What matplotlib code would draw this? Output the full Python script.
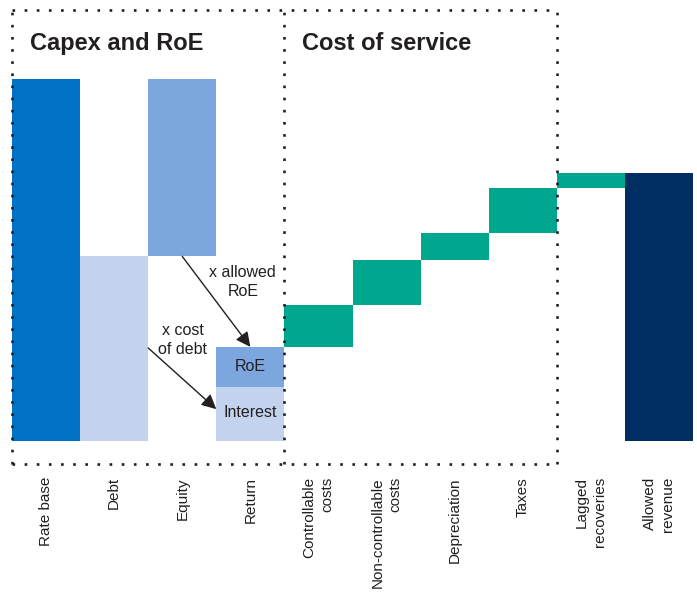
import matplotlib

matplotlib.use("Agg")
import matplotlib.pyplot as plt

plt.rcParams["font.family"] = ["Liberation Sans", "DejaVu Sans"]

# Данные водопада (в условных единицах, база = 100)
categories = [
    "Rate base", "Debt", "Equity", "Return",
    "Controllable\ncosts", "Non-controllable\ncosts", "Depreciation",
    "Taxes", "Lagged\nrecoveries", "Allowed\nrevenue",
]
rate_base = 100
debt = 51
equity = 49
interest = 15
roe = 11
cost_items = [11.5, 12.5, 7.5, 12.5]
lagged = 4.0

c_rate = "#0071c5"
c_light = "#c3d3ee"
c_mid = "#7ba7de"
c_green = "#00a68e"
c_navy = "#002e63"
c_text = "#231f20"

fig = plt.figure(figsize=(6.97, 5.97), dpi=100)
ax = fig.add_axes([12 / 697, 1 - 441 / 597, 681 / 697, 431 / 597])

ax.bar(0, rate_base, width=1.0, color=c_rate)
ax.bar(1, debt, width=1.0, color=c_light)
ax.bar(2, equity, bottom=debt, width=1.0, color=c_mid)
ax.bar(3, interest, width=1.0, color=c_light)
ax.bar(3, roe, bottom=interest, width=1.0, color=c_mid)

level = interest + roe
for i, val in enumerate(cost_items):
    ax.bar(4 + i, val, bottom=level, width=1.0, color=c_green)
    level += val
ax.bar(8, lagged, bottom=level, width=1.0, color=c_green)
level += lagged
ax.bar(9, level, width=1.0, color=c_navy)

ax.set_xlim(-0.5, 9.5)
ax.set_ylim(0, 431 / 3.62)
for s in ax.spines.values():
    s.set_visible(False)
ax.set_yticks([])
ax.set_xticks(range(len(categories)))
ax.set_xticklabels(categories, rotation=90, ha="center", va="top",
                   multialignment="right", fontsize=11, color=c_text,
                   linespacing=1.4)
ax.tick_params(axis="x", length=0, pad=26)

# Надписи внутри столбца Return
ax.text(3, interest + roe / 2, "RoE", ha="center", va="center", fontsize=11.5, color=c_text)
ax.text(3, interest / 2 + 0.5, "Interest", ha="center", va="center", fontsize=11.5, color=c_text)

arrow = dict(arrowstyle="-|>", mutation_scale=22, lw=1, color=c_text, shrinkA=0, shrinkB=0)
ax.annotate("", xy=(3.0, interest + roe), xytext=(2.0, debt), arrowprops=arrow)
ax.annotate("", xy=(2.5, 8.8), xytext=(1.5, 25.7), arrowprops=arrow)
ax.text(2.89, 43.9, "x allowed\nRoE", ha="center", va="center", fontsize=11.5,
        color=c_text, linespacing=1.3)
ax.text(2.01, 27.9, "x cost\nof debt", ha="center", va="center", fontsize=11.5,
        color=c_text, linespacing=1.3)

# Пунктирные рамки
y_top = 431 / 3.62 - 0.1
y_bot = -6.4
dot = dict(color=c_text, lw=1.9, linestyle=(0, (1, 3.6)), dash_capstyle="butt",
           clip_on=False, zorder=5)
ax.plot([-0.5, 7.51], [y_top, y_top], **dot)
ax.plot([-0.5, 7.51], [y_bot, y_bot], **dot)
ax.plot([-0.5, -0.5], [y_bot, y_top], **dot)
ax.plot([3.5, 3.5], [y_bot, y_top], **dot)
ax.plot([7.51, 7.51], [y_bot, y_top], **dot)

ax.text(-0.235, 108.0, "Capex and RoE", ha="left", va="baseline", fontsize=17,
        fontweight="bold", color=c_text)
ax.text(3.765, 108.0, "Cost of service", ha="left", va="baseline", fontsize=17,
        fontweight="bold", color=c_text)

fig.savefig("out.png", dpi=100)
plt.close(fig)
